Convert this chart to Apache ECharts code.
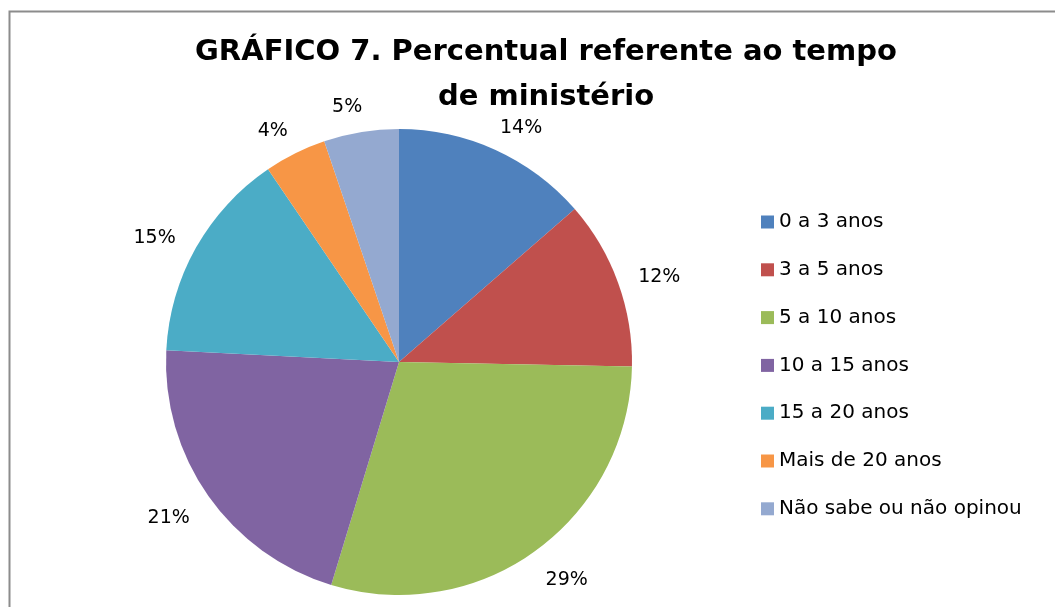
<!DOCTYPE html>
<html lang="pt">
  <head>
    <meta charset="UTF-8" />
    <title>Gráfico 7</title>
    <script src="https://cdn.jsdelivr.net/npm/echarts@6/dist/echarts.min.js"></script>
    <style>
      body { margin: 0; background: #fff; }
    </style>
  </head>
  <body>
    <div id="main" style="width: 1055px; height: 607px"></div>
    <script type="text/javascript">
      // categories and their shares
      const categories = ["0 a 3 anos", "3 a 5 anos", "5 a 10 anos", "10 a 15 anos", "15 a 20 anos", "Mais de 20 anos", "Não sabe ou não opinou"];
      const shares = [13.6, 11.7, 29.4, 21.1, 14.7, 4.3, 5.2];
      const colors = ["#4F81BD", "#C0504D", "#9BBB59", "#8064A2", "#4BACC6", "#F79646", "#94A9D0"];

      const myChart = echarts.init(document.getElementById("main"));

      let options = {
        color: colors,
        animation: false,
        title: {
          text: "GRÁFICO 7. Percentual referente ao tempo\nde ministério",
          left: 541,
          top: 25,
          textAlign: "center",
          textStyle: {
            fontFamily: "DejaVu Sans",
            fontWeight: "bold",
            fontSize: 29,
            lineHeight: 45,
            color: "#000",
          },
        },
        legend: {
          orient: "vertical",
          left: 756,
          top: 207,
          itemWidth: 13,
          itemHeight: 13,
          itemGap: 27.8,
          icon: "rect",
          textStyle: { fontFamily: "DejaVu Sans", fontSize: 20, color: "#000" },
          data: categories,
        },
        graphic: [
          {
            type: "rect",
            shape: { x: 9.5, y: 11.5, width: 1100, height: 700 },
            style: { fill: "none", stroke: "#8c8c8c", lineWidth: 2 },
          },
        ],
        series: [
          {
            type: "pie",
            center: [399, 362],
            radius: 233,
            startAngle: 90,
            clockwise: true,
            percentPrecision: 0,
            avoidLabelOverlap: false,
            label: {
              show: true,
              position: "outside",
              formatter: "{d}%",
              fontFamily: "DejaVu Sans",
              fontSize: 19,
              color: "#000",
              offset: [-1, 5],
            },
            labelLine: { show: false, length: 30, length2: -12 },
            itemStyle: { borderWidth: 0 },
            emphasis: { disabled: true },
            data: categories.map((c, i) => ({ name: c, value: shares[i] })),
          },
        ],
      };
      myChart.setOption(options);
    </script>
  </body>
</html>
